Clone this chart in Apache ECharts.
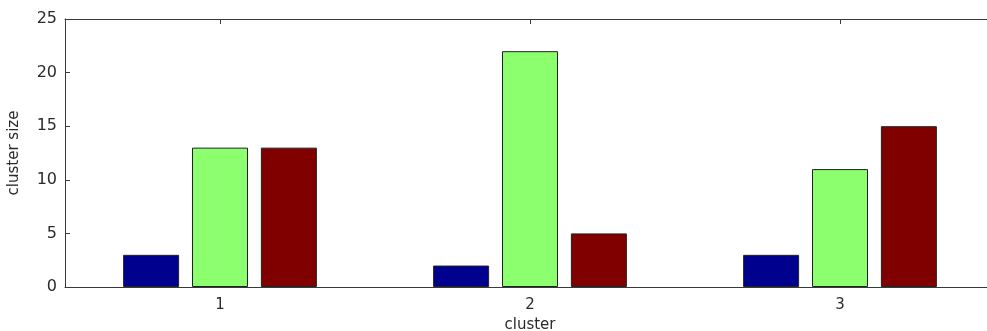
<!DOCTYPE html>
<html><head><meta charset="utf-8">
<script src="https://cdn.jsdelivr.net/npm/echarts@6/dist/echarts.min.js"></script>
<style>html,body{margin:0;padding:0;background:#fff;overflow:hidden}#c{width:995px;height:331px}</style>
</head><body><div id="c"></div>
<script>
var categories = ['1', '2', '3'];
var series1 = [3, 2, 3];
var series2 = [13, 22, 11];
var series3 = [13, 5, 15];
var yTicks = [0, 5, 10, 15, 20, 25];

var chart = echarts.init(document.getElementById('c'));
var font = 'DejaVu Sans, sans-serif';
var axisCol = '#3a3a3a';
var txtCol = '#2a2a2a';
function barSeries(data, color) {
  return {type: 'bar', data: data, barWidth: 56, barGap: '23%',
    itemStyle: {color: color, borderColor: '#222', borderWidth: 1}, xAxisIndex: 0};
}
chart.setOption({
  animation: false,
  grid: {left: 65, top: 19, right: 0, bottom: 44, containLabel: false, outerBoundsMode: 'none'},
  xAxis: [{
    type: 'category', data: categories, position: 'bottom',
    name: 'cluster', nameLocation: 'middle', nameGap: 29,
    nameTextStyle: {fontFamily: font, fontSize: 15, color: txtCol},
    axisLine: {lineStyle: {color: axisCol, width: 1}},
    axisTick: {show: true, inside: true, alignWithLabel: true, length: 5, lineStyle: {color: axisCol}},
    axisLabel: {fontFamily: font, fontSize: 15, color: txtCol, margin: 11},
    splitLine: {show: false}
  }, {
    type: 'category', data: categories, position: 'top',
    axisLine: {lineStyle: {color: axisCol, width: 1}},
    axisTick: {show: true, inside: true, alignWithLabel: true, length: 5, lineStyle: {color: axisCol}},
    axisLabel: {show: false}
  }],
  yAxis: {
    type: 'value', min: 0, max: 25, interval: 5,
    name: 'cluster size', nameLocation: 'middle', nameGap: 43,
    nameTextStyle: {fontFamily: font, fontSize: 15, color: txtCol},
    axisLine: {show: true, lineStyle: {color: axisCol, width: 1}},
    axisTick: {show: true, inside: true, length: 5, lineStyle: {color: axisCol}},
    axisLabel: {fontFamily: font, fontSize: 16, color: txtCol, margin: 8,
      formatter: function (v) { return yTicks.indexOf(v) >= 0 ? String(v) : ''; }},
    splitLine: {show: false}
  },
  series: [
    barSeries(series1, '#00008f'),
    barSeries(series2, '#8cff6f'),
    barSeries(series3, '#800000')
  ]
});
</script></body></html>
